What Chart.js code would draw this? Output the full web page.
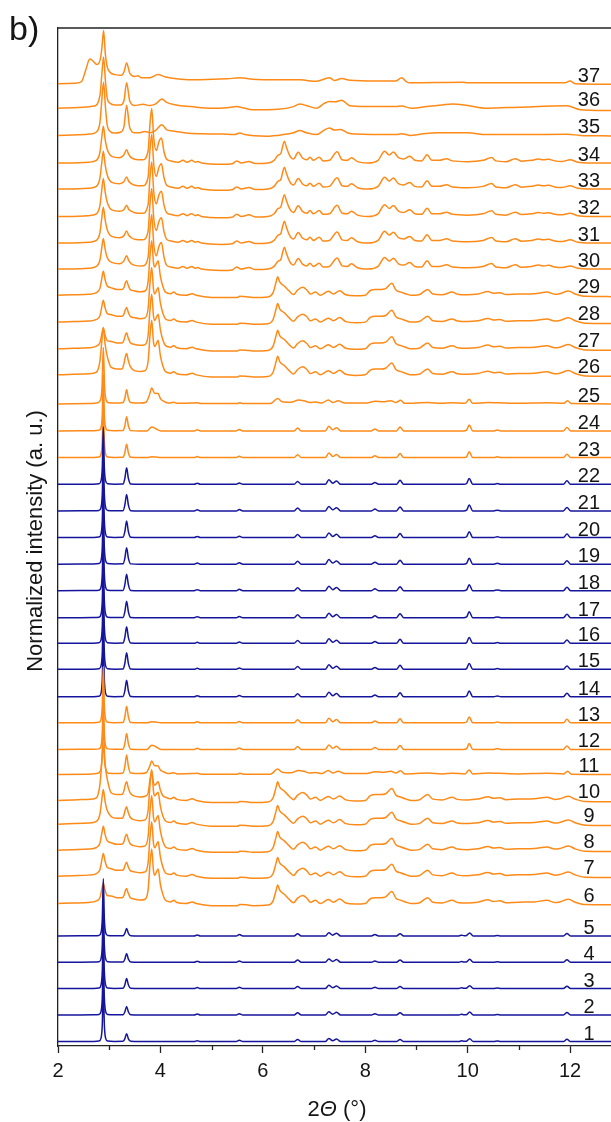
<!DOCTYPE html>
<html>
<head>
<meta charset="utf-8">
<script src="https://cdn.jsdelivr.net/npm/chart.js@4/dist/chart.umd.min.js"></script>
<style>
  html, body { margin: 0; padding: 0; background: #ffffff; overflow: hidden; }
  #wrap { width: 611px; height: 1122px; position: relative; }
</style>
</head>
<body>
<div id="wrap"><canvas id="xrd" width="611" height="1122"></canvas></div>
<script>
// ---- data -------------------------------------------------------------
const xMajorTicks = [2, 4, 6, 8, 10, 12];
const xMinorTicks = [3, 5, 7, 9, 11];

const patternLabels = ['1','2','3','4','5','6','7','8','9','10','11','12','13','14','15','16','17','18','19',
  '20','21','22','23','24','25','26','27','28','29','30','31','32','33','34','35','36','37'];

// vertical offset (baseline) of each pattern in the stack
const baselines = [0.165, 1.166, 2.159, 3.148, 4.137, 5.355, 6.382, 7.360, 8.338, 9.229,
  10.207, 11.147, 12.147, 13.125, 14.156, 15.133, 16.096, 17.112, 18.11, 19.11,
  20.11, 21.11, 22.114, 23.118, 24.133, 25.224, 26.202, 27.206, 28.214, 29.199,
  30.177, 31.177, 32.208, 33.186, 34.224, 35.246, 36.168];

// sample state of each pattern: pristine framework or guest-exposed
const sampleState = ['pristine','pristine','pristine','pristine','pristine',
  'exposed','exposed','exposed','exposed','exposed','exposed','exposed','exposed',
  'pristine','pristine','pristine','pristine','pristine','pristine','pristine','pristine','pristine',
  'exposed','exposed','exposed','exposed','exposed','exposed','exposed','exposed','exposed',
  'exposed','exposed','exposed','exposed','exposed','exposed'];

// which reflection profile each pattern follows
const profileOf = ['bulk1','bulk1','bulk1','bulk1','bulk1',
  'guest','guest','guest','guest','guest',
  'mixed','bulk2','bulk2',
  'bulk2','bulk2','bulk2','bulk2','bulk2','bulk2','bulk2','bulk2','bulk2',
  'bulk2','bulk2','mixed',
  'guest','guest','guest','guest',
  'shifted','shifted','shifted','shifted','shifted',
  'p35','p36','p37'];

// apex intensities of the strong low-angle reflections, per pattern
const peak29 = [2.15,2.15,2.15,2.15,2.15, 0.75,0.85,0.9,1.3,2.05, 2.12,2.12,2.12,
  2.15,2.15,2.15,2.15,2.15,2.15,2.15,2.15,2.15, 2.12,2.12,2.12,
  1.78,0.78,0.82,0.9, 1.15,1.35,1.43,1.42,1.38, 2.0,1.92,2.0];
const peak335 = [0.3,0.32,0.38,0.33,0.28, 0.56,0.52,0.6,0.65,0.7, 0.73,0.6,0.62,
  0.62,0.62,0.62,0.62,0.62,0.62,0.62,0.62,0.62, 0.5,0.53,0.53,
  0.8,0.6,0.55,0.55, 0.5,0.45,0.42,0.45,0.5, 1.13,0.96,0.78];
const peak383 = [0,0,0,0,0, 2.05,2.05,2.05,2.05,1.1, 0.5,0.16,0.04,
  0,0,0,0,0,0,0,0,0, 0.03,0.15,0.6,
  2.05,2.05,2.05,2.05, 2.05,2.05,2.05,2.05,2.05, 0,0,0];
const peak395 = [0,0,0,0,0, 1.3,1.3,1.3,1.2,0.7, 0.33,0.1,0.03,
  0,0,0,0,0,0,0,0,0, 0.02,0.08,0.4,
  1.3,1.3,1.3,1.3, 1.0,0.95,0.95,0.95,0.94, 0,0,0];

// reflection profiles: [2θ, intensity above baseline];
// string entries refer to a per-pattern apex ('p29'), optionally as a fraction of it ('p29*0.3')
const profileBulk1 = [[2.0,0],[2.7,0.005],[2.8,0.02],[2.84,'p29*0.06'],[2.865,'p29*0.3'],[2.885,'p29'],
  [2.905,'p29*0.3'],[2.93,'p29*0.06'],[2.97,0.02],[3.1,0.005],
  [3.27,0.01],[3.305,'p335*0.35'],[3.34,'p335'],[3.375,'p335*0.35'],[3.42,0.01],[3.6,0],[4.66,0],[4.72,0.035],[4.78,0],
  [5.48,0],[5.54,0.05],[5.61,0],[6.61,0],[6.68,0.08],[6.75,0],[7.22,0],[7.29,0.12],[7.365,0.03],[7.44,0.1],[7.52,0],
  [8.12,0],[8.19,0.05],[8.26,0],[8.61,0],[8.68,0.08],[8.75,0],[9.83,0],[9.88,0.03],[9.93,0.01],[9.97,0.01],
  [10.04,0.11],[10.11,0],[10.51,0],[10.58,0.02],[10.65,0],[11.87,0],[11.94,0.09],[12.01,0],[12.8,0]];

const profileBulk2 = [[2.0,0],[2.7,0.005],[2.8,0.02],[2.84,'p29*0.06'],[2.865,'p29*0.3'],[2.885,'p29'],
  [2.905,'p29*0.3'],[2.93,'p29*0.06'],[2.97,0.02],[3.1,0.005],
  [3.27,0.01],[3.305,'p335*0.35'],[3.34,'p335'],[3.375,'p335*0.35'],[3.42,0.01],[3.6,0],[3.74,0],[3.83,'p383'],
  [3.91,'p395'],[4.01,0],
  [4.66,0],[4.72,0.04],[4.78,0],[5.48,0],[5.54,0.05],[5.61,0],[6.61,0],[6.68,0.11],[6.75,0],[7.22,0],[7.29,0.17],
  [7.365,0.04],[7.44,0.12],[7.52,0],[8.12,0],[8.19,0.07],[8.26,0],[8.61,0],[8.68,0.15],[8.75,0],[9.92,0],[9.98,0.03],
  [10.03,0.22],[10.1,0],[10.51,0],[10.58,0.03],[10.65,0],[11.87,0],[11.94,0.13],[12.01,0],[12.8,0]];

const profileMixed = [[2.0,0],[2.6,0.01],[2.75,0.03],[2.83,'p29*0.07'],[2.86,'p29*0.3'],[2.885,'p29'],
  [2.91,'p29*0.3'],[2.94,'p29*0.07'],[2.99,0.04],[3.15,0.03],
  [3.27,0.05],[3.305,'p335*0.4'],[3.34,'p335'],[3.375,'p335*0.4'],[3.42,0.05],[3.6,0.03],[3.72,0.06],
  [3.79,'p383*0.6'],[3.83,'p383'],[3.89,'p383*0.65'],[3.95,'p395'],[4.0,'p395*0.5'],[4.06,0.1],[4.15,0.03],
  [4.26,0.06],[4.33,0.02],[4.62,0.03],[4.72,0.04],[4.8,0.01],[5.5,0.01],
  [5.55,0.04],[5.62,0.01],[6.15,0.01],[6.29,0.2],[6.38,0.08],[6.55,0.06],[6.7,0.15],[6.8,0.12],[6.92,0.05],
  [7.03,0.07],[7.15,0.03],[7.28,0.15],[7.37,0.05],[7.47,0.12],[7.6,0.03],[8.0,0.03],[8.2,0.1],[8.35,0.08],
  [8.5,0.12],[8.6,0.05],[8.69,0.14],[8.77,0.02],[9.22,0.05],[9.5,0.02],[9.7,0.04],[9.95,0.02],[10.03,0.17],
  [10.1,0.02],[10.4,0.05],[10.6,0.04],[11.0,0.02],[11.55,0.04],[11.88,0.02],[11.95,0.12],[12.03,0.01],[12.8,0]];

const profileGuest = [[2.0,0],[2.3,0.02],[2.6,0.04],[2.75,0.1],[2.82,'p29*0.3'],[2.855,'p29*0.7'],[2.885,'p29'],
  [2.92,'p29*0.65'],[2.96,'p29*0.4'],[3.04,0.28],
  [3.15,0.22],[3.25,0.22],[3.29,'p335*0.55'],[3.315,'p335*0.85'],[3.34,'p335'],[3.37,'p335*0.7'],[3.41,'p335*0.4'],
  [3.48,0.17],[3.6,0.13],[3.7,0.16],[3.76,'p383*0.25'],[3.795,'p383*0.7'],[3.83,'p383'],[3.865,'p383*0.6'],
  [3.89,'p383*0.52'],[3.955,'p395'],[4.0,'p395*0.55'],[4.05,'p395*0.25'],[4.1,0.12],[4.2,0.06],[4.26,0.12],
  [4.32,0.04],[4.5,0.0],
  [4.62,0.06],[4.7,0],[5.0,-0.08],[5.5,-0.08],[5.55,-0.04],[5.68,-0.05],[5.8,-0.08],[6.1,-0.06],[6.2,0.1],
  [6.26,0.5],[6.29,0.7],[6.33,0.5],[6.42,0.35],[6.52,0.15],[6.6,0.03],[6.68,0.2],[6.78,0.3],[6.86,0.2],[6.93,0.05],
  [7.03,0.12],[7.12,0.0],[7.28,0.15],[7.38,0.05],[7.5,0.17],[7.62,0.02],[7.8,-0.02],[8.0,0.0],[8.1,0.18],
  [8.2,0.22],[8.3,0.22],[8.4,0.25],[8.52,0.45],[8.6,0.2],[8.7,0.12],[8.8,0.05],[8.9,0.0],[9.05,0.02],[9.22,0.22],
  [9.32,0.05],[9.5,0.02],[9.7,0.12],[9.8,0.04],[10.0,0.02],[10.2,0.05],[10.4,0.14],[10.5,0.08],[10.63,0.1],
  [10.75,0.03],[11.0,0.05],[11.3,0.06],[11.55,0.12],[11.7,0.04],[11.8,0.06],[11.97,0.16],[12.1,0.05],
  [12.3,-0.04],[12.8,-0.05]];

const profileShifted = [[2.0,0],[2.4,0.01],[2.6,0.03],[2.75,0.1],[2.82,'p29*0.3'],[2.855,'p29*0.7'],[2.885,'p29'],
  [2.92,'p29*0.65'],[2.96,'p29*0.38'],[3.05,0.25],
  [3.2,0.2],[3.285,'p335*0.6'],[3.34,'p335'],[3.38,'p335*0.65'],[3.43,0.2],[3.5,0.14],[3.65,0.12],
  [3.76,'p383*0.22'],[3.795,'p383*0.7'],[3.83,'p383'],[3.87,'p383*0.45'],[3.92,'p395*0.5'],[3.97,'p395*0.85'],
  [4.02,'p395'],[4.07,'p395*0.45'],[4.12,0.15],[4.2,0.08],[4.35,0.03],[4.44,0.1],[4.52,0.03],[4.61,0.1],[4.68,0.03],[4.73,0.06],
  [4.8,0],[5.2,-0.05],[5.4,-0.03],[5.49,0.08],[5.58,0],[5.73,0.06],[5.85,-0.02],[6.1,0.0],[6.22,0.1],[6.30,0.3],
  [6.35,0.35],[6.39,0.65],[6.42,0.82],[6.46,0.6],[6.52,0.3],[6.6,0.15],[6.69,0.4],[6.78,0.18],[6.86,0.12],[6.92,0.22],[6.99,0.1],
  [7.1,0.22],[7.18,0.08],[7.3,0.1],[7.45,0.42],[7.55,0.12],[7.65,0.1],[7.73,0.2],[7.85,0.05],[8.05,0.0],
  [8.25,0.1],[8.38,0.44],[8.47,0.3],[8.55,0.41],[8.65,0.2],[8.75,0.15],[8.87,0.25],[8.97,0.1],[9.1,0.08],
  [9.21,0.31],[9.3,0.1],[9.45,0.1],[9.59,0.16],[9.7,0.08],[10.0,0.05],[10.3,0.1],[10.47,0.21],[10.55,0.08],
  [10.75,0.05],[10.93,0.16],[11.05,0.07],[11.25,0.1],[11.38,0.15],[11.48,0.12],[11.58,0.14],[11.7,0.08],
  [11.85,0.06],[12.0,0.12],[12.15,0.03],[12.4,0.0],[12.8,0]];

const profile35 = [[2.0,0],[2.4,0.02],[2.62,0.05],[2.75,0.13],[2.82,'p29*0.25'],[2.855,'p29*0.65'],[2.89,'p29'],
  [2.925,'p29*0.55'],[2.96,'p29*0.2'],[3.02,0.15],
  [3.1,0.09],[3.22,0.12],[3.29,0.35],[3.34,'p335'],[3.4,0.3],[3.5,0.1],[3.6,0.1],[3.69,0.15],[3.8,0.1],[3.9,0.18],
  [4.03,0.4],[4.12,0.22],[4.3,0.15],[4.5,0.09],[4.8,0.06],[5.2,0.05],[5.45,0.03],[5.55,0.09],[5.65,0.03],
  [6.07,-0.03],[6.4,0.03],[6.6,0.1],[6.72,0.18],[6.85,0.1],[7.05,0.03],[7.2,0.2],[7.3,0.28],[7.4,0.2],[7.52,0.22],
  [7.65,0.1],[7.8,0.05],[8.6,0.03],[8.71,0.06],[8.87,0.0],[9.1,0.05],[9.4,0.1],[9.7,0.1],[10.0,0.1],[10.37,0.03],
  [11.0,0.03],[11.95,0.04],[12.2,0.0],[12.8,-0.02]];

const profile36 = [[2.0,0],[2.3,0.02],[2.5,0.04],[2.7,0.08],[2.82,'p29*0.25'],[2.855,'p29*0.65'],[2.89,'p29'],
  [2.925,'p29*0.55'],[2.96,'p29*0.2'],[3.02,0.18],
  [3.1,0.12],[3.22,0.12],[3.29,0.3],[3.34,'p335'],[3.4,0.28],[3.5,0.1],[3.66,0.15],[3.78,0.1],[3.9,0.15],
  [4.03,0.35],[4.12,0.22],[4.3,0.12],[4.6,0.06],[5.0,0.0],[5.3,0.02],[5.49,0.06],[5.6,0.02],[5.8,-0.06],
  [6.3,-0.04],[6.6,0.06],[6.72,0.16],[6.85,0.1],[7.05,0.0],[7.2,0.18],[7.3,0.25],[7.42,0.24],[7.54,0.3],
  [7.7,0.09],[8.0,0.06],[8.6,0.06],[8.71,0.08],[8.9,0.0],[9.2,0.06],[9.5,0.12],[9.7,0.16],[10.0,0.1],
  [10.37,0.0],[11.0,0.04],[11.94,0.09],[12.2,-0.06],[12.8,-0.09]];

const profile37 = [[2.0,0],[2.35,0.02],[2.46,0.08],[2.54,0.5],[2.62,0.93],[2.68,0.86],[2.76,0.72],[2.83,0.95],
  [2.86,'p29*0.7'],[2.89,'p29'],[2.925,'p29*0.55'],[2.96,'p29*0.32'],[3.02,0.42],[3.12,0.34],[3.24,0.32],[3.29,0.45],
  [3.34,'p335'],[3.4,0.4],[3.5,0.27],
  [3.56,0.3],[3.63,0.22],[3.8,0.22],[3.95,0.34],[4.1,0.25],[4.4,0.17],[4.77,0.15],[5.3,0.18],[5.55,0.22],
  [5.8,0.17],[6.3,0.15],[6.72,0.15],[6.85,0.12],[7.05,0.09],[7.3,0.22],[7.4,0.12],[7.54,0.19],[7.7,0.13],
  [8.22,0.1],[8.6,0.1],[8.71,0.22],[8.8,0.08],[8.87,0.03],[9.91,0.05],[10.0,0.03],[11.9,0.03],[12.0,0.1],
  [12.1,0.0],[12.8,-0.02]];

// ---- assembly ---------------------------------------------------------
const profiles = {
  bulk1: profileBulk1, bulk2: profileBulk2, mixed: profileMixed, guest: profileGuest,
  shifted: profileShifted, p35: profile35, p36: profile36, p37: profile37
};
const apexTables = { p29: peak29, p335: peak335, p383: peak383, p395: peak395 };
const stateColor = { pristine: '#14149c', exposed: '#ff8a17' };

function intensity(v, i) {
  if (typeof v !== 'string') return v;
  const [key, frac] = v.split('*');
  return apexTables[key][i] * (frac ? parseFloat(frac) : 1);
}

const datasets = patternLabels.map((label, i) => ({
  label: label,
  data: profiles[profileOf[i]].map(([x, v]) => ({ x: x, y: baselines[i] + intensity(v, i) })),
  borderColor: stateColor[sampleState[i]],
  borderWidth: 1.5,
  pointRadius: 0,
  fill: false,
  cubicInterpolationMode: 'monotone'
}));

const FONT = '"Liberation Sans", Arial, Helvetica, sans-serif';
const labelX = 12.37;

const decorations = {
  id: 'decorations',
  afterDatasetsDraw(chart) {
    const { ctx, chartArea, scales } = chart;
    const xs = scales.x, ys = scales.y;
    ctx.save();
    // top frame line
    ctx.strokeStyle = '#222';
    ctx.lineWidth = 1.3;
    ctx.beginPath();
    ctx.moveTo(chartArea.left, chartArea.top);
    ctx.lineTo(chartArea.right + 2, chartArea.top);
    ctx.stroke();
    // minor ticks
    xMinorTicks.forEach(v => {
      const px = Math.round(xs.getPixelForValue(v)) + 0.5;
      ctx.beginPath();
      ctx.moveTo(px, chartArea.bottom);
      ctx.lineTo(px, chartArea.bottom + 4);
      ctx.stroke();
    });
    // pattern numbers
    ctx.fillStyle = '#151515';
    ctx.font = '20px ' + FONT;
    ctx.textAlign = 'center';
    ctx.textBaseline = 'alphabetic';
    patternLabels.forEach((t, i) => {
      ctx.fillText(t, xs.getPixelForValue(labelX), ys.getPixelForValue(baselines[i]) - 2);
    });
    // panel letter
    ctx.textAlign = 'left';
    ctx.font = '34px ' + FONT;
    ctx.fillText('b)', 9, 40);
    // y axis title
    ctx.save();
    ctx.translate(34, (chartArea.top + chartArea.bottom) / 2 + 4);
    ctx.rotate(-Math.PI / 2);
    ctx.textAlign = 'center';
    ctx.font = '22px ' + FONT;
    ctx.fillText('Normalized intensity (a. u.)', 0, 8);
    ctx.restore();
    // x axis title: 2Θ (°) with italic theta
    const parts = [['2', '22px ' + FONT], ['\u0398', 'italic 22px ' + FONT], [' (\u00B0)', '22px ' + FONT]];
    let total = 0;
    parts.forEach(p => { ctx.font = p[1]; total += ctx.measureText(p[0]).width; });
    let cx = 337 - total / 2;
    ctx.textAlign = 'left';
    parts.forEach(p => { ctx.font = p[1]; ctx.fillText(p[0], cx, 1116); cx += ctx.measureText(p[0]).width; });
    ctx.restore();
  }
};

new Chart(document.getElementById('xrd'), {
  type: 'line',
  data: { datasets: datasets },
  options: {
    responsive: false,
    animation: false,
    events: [],
    layout: { padding: { top: 28, left: 0, right: 0, bottom: 0 } },
    plugins: { legend: { display: false }, tooltip: { enabled: false } },
    scales: {
      x: {
        type: 'linear',
        min: 2,
        max: 12.8,
        afterBuildTicks: s => { s.ticks = xMajorTicks.map(v => ({ value: v })); },
        afterFit: s => { s.height = 76; },
        ticks: {
          autoSkip: false,
          maxRotation: 0,
          padding: 6,
          color: '#151515',
          font: { family: FONT, size: 20 },
          callback: v => String(v)
        },
        grid: { drawOnChartArea: false, drawTicks: true, tickLength: 7, tickWidth: 1.3, tickColor: '#222' },
        border: { display: true, color: '#222', width: 1.3 }
      },
      y: {
        type: 'linear',
        min: 0,
        max: 38.26,
        afterFit: s => { s.width = 58; },
        ticks: { display: false },
        grid: { display: false },
        border: { display: true, color: '#222', width: 1.3 }
      }
    }
  },
  plugins: [decorations]
});
</script>
</body>
</html>
